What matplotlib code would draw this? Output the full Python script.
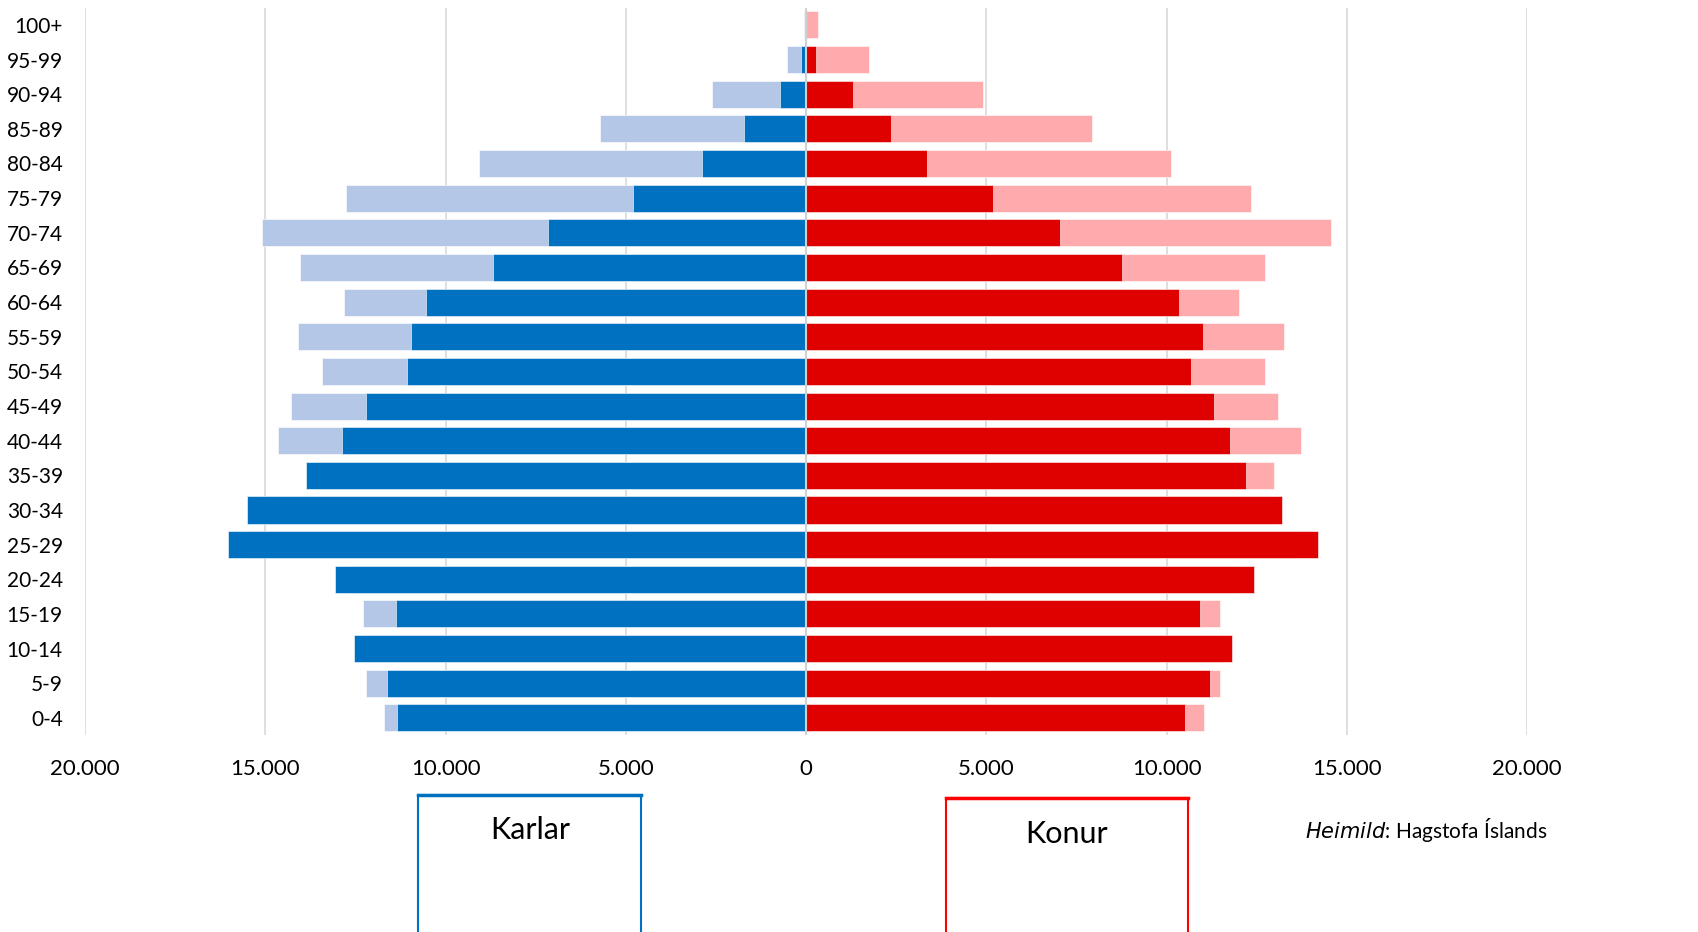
import matplotlib.pyplot as plt
from matplotlib.patches import Rectangle
from matplotlib.ticker import FuncFormatter

plt.rcParams['font.family'] = ['Lato', 'DejaVu Sans']

# --- Aldurshópar, neðst til efst ---
aldur = ["0-4", "5-9", "10-14", "15-19", "20-24", "25-29", "30-34", "35-39",
         "40-44", "45-49", "50-54", "55-59", "60-64", "65-69", "70-74",
         "75-79", "80-84", "85-89", "90-94", "95-99", "100+"]

# Karlar: í dag (dökkt) og spá (ljóst)
karlar_nu = [11345, 11623, 12538, 11373, 13065, 16033, 15506, 13870,
             12871, 12205, 11068, 10957, 10541, 8682, 7157,
             4799, 2885, 1720, 721, 140, 10]
karlar_spa = [11706, 12205, 12300, 12289, 12700, 15600, 15100, 13500,
              14646, 14286, 13426, 14092, 12816, 14036, 15090,
              12760, 9071, 5714, 2607, 527, 55]

# Konur: í dag (dökkt) og spá (ljóst)
konur_nu = [10513, 11207, 11817, 10929, 12427, 14202, 13204, 12205,
            11761, 11318, 10680, 11012, 10347, 8766, 7046,
            5195, 3345, 2350, 1300, 290, 20]
konur_spa = [11040, 11484, 11500, 11484, 12000, 13600, 12900, 12982,
             13731, 13093, 12732, 13259, 12011, 12732, 14563,
             12330, 10120, 7945, 4910, 1740, 340]

LJOSBLAR = "#B4C7E7"
DOKKBLAR = "#0070C0"
LJOSRAUDUR = "#FFAAAC"
DOKKRAUDUR = "#DF0000"


def thus(x, pos):
    return f"{abs(int(x)):,}".replace(",", ".")


def main():
    fig = plt.figure(figsize=(16.98, 9.32), dpi=100)
    ax = fig.add_axes([0.0501, 0.2111, 0.8492, 0.7808])

    y = list(range(len(aldur)))
    h = 0.78
    kw = dict(height=h, edgecolor="white", linewidth=0.4, zorder=2)
    ax.barh(y, [-v for v in karlar_spa], color=LJOSBLAR, **kw)
    ax.barh(y, [-v for v in karlar_nu], color=DOKKBLAR, **kw)
    ax.barh(y, konur_spa, color=LJOSRAUDUR, **kw)
    ax.barh(y, konur_nu, color=DOKKRAUDUR, **kw)

    ax.set_xlim(-20000, 20000)
    ax.set_ylim(-0.5, len(aldur) - 0.5)
    ax.set_xticks(range(-20000, 20001, 5000))
    ax.xaxis.set_major_formatter(FuncFormatter(thus))
    ax.set_yticks(y)
    ax.set_yticklabels(aldur)
    ax.tick_params(axis="both", length=0, labelsize=15, colors="black")
    ax.tick_params(axis="x", pad=17, labelsize=16)
    ax.tick_params(axis="y", pad=16)
    for lbl in ax.get_yticklabels():
        lbl.set_horizontalalignment("right")

    ax.grid(axis="x", color="#D9D9D9", linewidth=1.2, zorder=0)
    ax.set_axisbelow(True)
    ax.axvline(0, color="#D0D0D0", linewidth=1.5, zorder=3)
    for s in ax.spines.values():
        s.set_visible(False)

    # --- Skýringarkassar ---
    W, H = 1698, 932
    boxes = [(418, 795, 223, "Karlar", DOKKBLAR, 530, 830),
             (946, 798, 242, "Konur", "#FF0000", 1067, 834)]
    for x0, y0, w, txt, col, tx, ty in boxes:
        fig.patches.append(Rectangle((x0 / W, -0.05), w / W, (H - y0) / H + 0.05,
                                     transform=fig.transFigure, fill=False,
                                     edgecolor=col, linewidth=1.5))
        fig.lines.append(plt.Line2D([x0 / W, (x0 + w) / W], [(H - y0) / H] * 2,
                                    transform=fig.transFigure, color=col,
                                    linewidth=2.5))
        fig.text(tx / W, 1 - ty / H, txt, ha="center", va="center", fontsize=22)

    fig.text(1547 / W, 1 - 830 / H, r"$\it{Heimild}$: Hagstofa Íslands",
             ha="right", va="center", fontsize=15)

    fig.savefig("out.png", dpi=100, facecolor="white")
    plt.close(fig)


if __name__ == "__main__":
    main()
